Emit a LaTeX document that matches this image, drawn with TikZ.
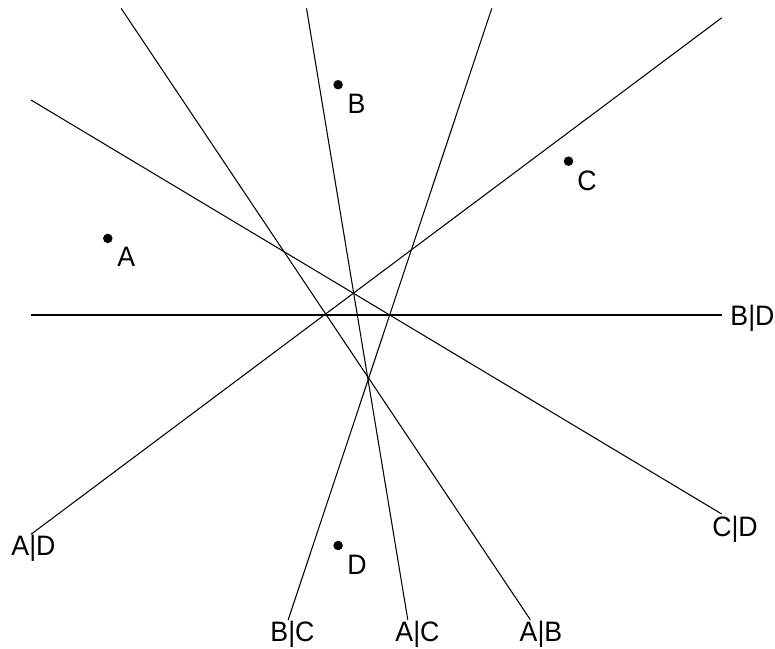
\documentclass[tikz,border=0pt]{standalone}
\usepackage{fontspec}
\setmainfont{Liberation Sans}[FakeStretch=0.95]
\usetikzlibrary{positioning,calc}

\begin{document}
\begin{tikzpicture}[
                x=0.02cm, y=-0.02cm,
                every node/.style={font=\fontsize{16}{18}\selectfont, inner sep=0pt},
                every path/.style={line width=0.6pt},
                site/.style={circle, fill=black, minimum size=0.19cm},
                bisector/.style={anchor=base}
            ]

                \useasboundingbox (0,0) rectangle (775,649);

                % Define Sites
                \node (A) [site] at (107.8,238.4) {};
                \node (B) [site] at (338.1,84.7) {};
                \node (C) [site] at (568.5,161.2) {};
                \node (D) [site] at (338.1,545.5) {};

                \node (labA) [anchor=base] at ($(A)+(18.5,28.5)$) {A};
                \node (labB) [anchor=base] at ($(B)+(18.5,28.5)$) {B};
                \node (labC) [anchor=base] at ($(C)+(18.5,29.5)$) {C};
                \node (labD) [anchor=base] at ($(D)+(19,29)$) {D};

                % Ends of the bisectors
                \coordinate (bd1) at (31,315);
                \coordinate (bd2) at (721.7,315);
                \coordinate (cd1) at (31,100);
                \coordinate (cd2) at (721.7,514);
                \coordinate (ad1) at (31,534.3);
                \coordinate (ad2) at (721.7,17.8);
                \coordinate (bc1) at (288.2,619.8);
                \coordinate (bc2) at (491.8,8.3);
                \coordinate (ac1) at (407.8,619.8);
                \coordinate (ac2) at (306.5,8.3);
                \coordinate (ab1) at (530.4,619.8);
                \coordinate (ab2) at (121.1,8.3);

                % Draw Bisectors
                \draw (bd1) -- (bd2);
                \draw (cd1) -- (cd2);
                \draw (ad1) -- (ad2);
                \draw (bc1) -- (bc2);
                \draw (ac1) -- (ac2);
                \draw (ab1) -- (ab2);

                % Bisector labels
                \node (labBD) [bisector] at (752.5,325.5) {B|D};
                \node (labCD) [bisector] at (735,536.5) {C|D};
                \node (labAD) [bisector] at (33.5,555) {A|D};
                \node (labBC) [bisector] at (292.5,641.5) {B|C};
                \node (labAC) [bisector] at (417.5,641.5) {A|C};
                \node (labAB) [bisector] at (541,641.5) {A|B};

            \end{tikzpicture}
\end{document}
